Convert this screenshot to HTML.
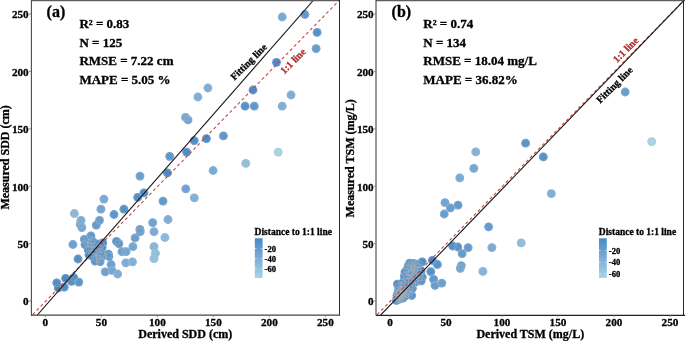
<!DOCTYPE html>
<html><head><meta charset="utf-8"><style>
html,body{margin:0;padding:0;background:#fff;}
svg{display:block;filter:blur(0.3px);}
text{font-family:"Liberation Serif",serif;font-weight:bold;fill:#000;stroke:#000;stroke-width:0.3px;}
</style></head><body>
<svg width="685" height="341" viewBox="0 0 685 341">
<defs><linearGradient id="grad" x1="0" y1="0" x2="0" y2="1"><stop offset="0.0" stop-color="#4689c7"/><stop offset="0.1" stop-color="#5290ca"/><stop offset="0.2" stop-color="#5d97ce"/><stop offset="0.3" stop-color="#689fd1"/><stop offset="0.4" stop-color="#71a6d4"/><stop offset="0.5" stop-color="#7baed8"/><stop offset="0.6" stop-color="#84b5db"/><stop offset="0.7" stop-color="#8dbdde"/><stop offset="0.8" stop-color="#96c4e1"/><stop offset="0.9" stop-color="#9fcce5"/><stop offset="1.0" stop-color="#a8d4e8"/></linearGradient></defs>
<rect width="685" height="341" fill="#fff"/>
<clipPath id="ca"><rect x="31" y="0" width="308" height="315"/></clipPath>
<g clip-path="url(#ca)">
<g>
<circle cx="91.8" cy="250.4" r="4.4" fill="#4a8bc8"/>
<circle cx="96.8" cy="258.6" r="4.4" fill="#5491cb"/>
<circle cx="97.5" cy="252.3" r="4.4" fill="#4c8dc9"/>
<circle cx="84.4" cy="239.3" r="4.4" fill="#619acf"/>
<circle cx="93.7" cy="253.2" r="4.4" fill="#488ac8"/>
<circle cx="92.0" cy="240.5" r="4.4" fill="#5793cc"/>
<circle cx="102.7" cy="255.6" r="4.4" fill="#5794cc"/>
<circle cx="88.0" cy="238.8" r="4.4" fill="#5e98ce"/>
<circle cx="100.6" cy="244.8" r="4.4" fill="#4789c7"/>
<circle cx="94.8" cy="246.5" r="4.4" fill="#4b8cc8"/>
<circle cx="85.0" cy="244.6" r="4.4" fill="#5a96cd"/>
<circle cx="89.5" cy="246.7" r="4.4" fill="#5290ca"/>
<circle cx="95.2" cy="261.1" r="4.4" fill="#5592cb"/>
<circle cx="92.7" cy="256.4" r="4.4" fill="#4b8cc8"/>
<circle cx="89.0" cy="254.8" r="4.4" fill="#488ac8"/>
<circle cx="98.7" cy="248.2" r="4.4" fill="#498ac8"/>
<circle cx="99.9" cy="259.2" r="4.4" fill="#5894cc"/>
<circle cx="101.1" cy="252.7" r="4.4" fill="#5290ca"/>
<circle cx="88.2" cy="250.0" r="4.4" fill="#508fca"/>
<circle cx="91.1" cy="243.7" r="4.4" fill="#5491cb"/>
<circle cx="99.4" cy="255.6" r="4.4" fill="#5391cb"/>
<circle cx="90.9" cy="235.9" r="4.4" fill="#5e98ce"/>
<circle cx="102.1" cy="247.6" r="4.4" fill="#4c8dc9"/>
<circle cx="87.5" cy="242.6" r="4.4" fill="#5a95cd"/>
<circle cx="95.1" cy="249.8" r="4.4" fill="#4689c7"/>
<circle cx="96.9" cy="244.0" r="4.4" fill="#4c8cc9"/>
<circle cx="282.2" cy="17.0" r="4.4" fill="#77aad6"/>
<circle cx="304.9" cy="14.5" r="4.4" fill="#6099cf"/>
<circle cx="317.1" cy="32.4" r="4.4" fill="#5391cb"/>
<circle cx="316.1" cy="48.6" r="4.4" fill="#659dd0"/>
<circle cx="276.5" cy="62.3" r="4.4" fill="#498ac8"/>
<circle cx="207.9" cy="88.0" r="4.4" fill="#7dafd8"/>
<circle cx="197.9" cy="97.0" r="4.4" fill="#7eb0d9"/>
<circle cx="253.0" cy="90.0" r="4.4" fill="#498ac8"/>
<circle cx="291.0" cy="95.0" r="4.4" fill="#7caed8"/>
<circle cx="245.1" cy="106.2" r="4.4" fill="#5391cb"/>
<circle cx="254.3" cy="106.2" r="4.4" fill="#5f98ce"/>
<circle cx="282.2" cy="106.2" r="4.4" fill="#7eb0d9"/>
<circle cx="185.5" cy="117.4" r="4.4" fill="#76a9d6"/>
<circle cx="188.0" cy="119.9" r="4.4" fill="#70a5d4"/>
<circle cx="194.2" cy="140.6" r="4.4" fill="#518fca"/>
<circle cx="206.4" cy="138.6" r="4.4" fill="#4a8bc8"/>
<circle cx="223.4" cy="135.9" r="4.4" fill="#5c97cd"/>
<circle cx="186.6" cy="152.1" r="4.4" fill="#4c8cc9"/>
<circle cx="169.7" cy="156.3" r="4.4" fill="#5c97cd"/>
<circle cx="278.2" cy="152.1" r="4.4" fill="#a8d4e8"/>
<circle cx="245.8" cy="163.3" r="4.4" fill="#92c1e0"/>
<circle cx="213.1" cy="170.5" r="4.4" fill="#77abd6"/>
<circle cx="185.8" cy="188.8" r="4.4" fill="#6da3d3"/>
<circle cx="194.3" cy="197.9" r="4.4" fill="#80b1d9"/>
<circle cx="167.4" cy="172.9" r="4.4" fill="#4a8bc8"/>
<circle cx="140.0" cy="176.1" r="4.4" fill="#699fd1"/>
<circle cx="143.9" cy="192.9" r="4.4" fill="#508fca"/>
<circle cx="137.7" cy="197.4" r="4.4" fill="#5290ca"/>
<circle cx="163.0" cy="201.1" r="4.4" fill="#609acf"/>
<circle cx="103.9" cy="199.1" r="4.4" fill="#78abd6"/>
<circle cx="100.9" cy="209.2" r="4.4" fill="#70a5d4"/>
<circle cx="123.9" cy="209.2" r="4.4" fill="#5592cb"/>
<circle cx="114.0" cy="214.5" r="4.4" fill="#5b96cd"/>
<circle cx="74.4" cy="213.5" r="4.4" fill="#88b8dc"/>
<circle cx="152.7" cy="222.7" r="4.4" fill="#6da3d3"/>
<circle cx="168.0" cy="219.5" r="4.4" fill="#7aadd7"/>
<circle cx="81.0" cy="220.3" r="4.4" fill="#7aadd7"/>
<circle cx="80.2" cy="224.4" r="4.4" fill="#77aad6"/>
<circle cx="81.8" cy="227.6" r="4.4" fill="#72a6d4"/>
<circle cx="99.5" cy="220.3" r="4.4" fill="#669dd0"/>
<circle cx="96.3" cy="225.2" r="4.4" fill="#649cd0"/>
<circle cx="72.9" cy="244.5" r="4.4" fill="#69a0d1"/>
<circle cx="116.5" cy="241.3" r="4.4" fill="#5794cc"/>
<circle cx="118.9" cy="243.7" r="4.4" fill="#5d97ce"/>
<circle cx="102.7" cy="242.9" r="4.4" fill="#478ac7"/>
<circle cx="108.4" cy="254.2" r="4.4" fill="#5d97ce"/>
<circle cx="122.0" cy="251.7" r="4.4" fill="#6aa1d2"/>
<circle cx="126.0" cy="251.7" r="4.4" fill="#6fa4d3"/>
<circle cx="78.0" cy="259.0" r="4.4" fill="#5290ca"/>
<circle cx="139.9" cy="229.4" r="4.4" fill="#669dd0"/>
<circle cx="140.2" cy="231.7" r="4.4" fill="#689fd1"/>
<circle cx="154.0" cy="231.7" r="4.4" fill="#78abd7"/>
<circle cx="164.9" cy="237.5" r="4.4" fill="#89b9dd"/>
<circle cx="135.1" cy="237.9" r="4.4" fill="#6aa0d2"/>
<circle cx="132.9" cy="246.7" r="4.4" fill="#71a6d4"/>
<circle cx="154.0" cy="246.7" r="4.4" fill="#87b8dc"/>
<circle cx="155.4" cy="253.3" r="4.4" fill="#8fbedf"/>
<circle cx="154.0" cy="258.6" r="4.4" fill="#93c2e0"/>
<circle cx="125.8" cy="262.8" r="4.4" fill="#7aadd7"/>
<circle cx="132.5" cy="261.8" r="4.4" fill="#80b2d9"/>
<circle cx="100.1" cy="261.6" r="4.4" fill="#5c96cd"/>
<circle cx="108.9" cy="256.5" r="4.4" fill="#6099cf"/>
<circle cx="111.1" cy="264.5" r="4.4" fill="#6ca2d2"/>
<circle cx="105.2" cy="271.8" r="4.4" fill="#6da3d3"/>
<circle cx="111.8" cy="270.4" r="4.4" fill="#73a7d5"/>
<circle cx="117.7" cy="274.0" r="4.4" fill="#7dafd8"/>
<circle cx="56.8" cy="282.8" r="4.4" fill="#4f8ec9"/>
<circle cx="58.3" cy="288.0" r="4.4" fill="#4689c7"/>
<circle cx="65.6" cy="278.4" r="4.4" fill="#498bc8"/>
<circle cx="64.2" cy="287.2" r="4.4" fill="#4d8dc9"/>
<circle cx="71.5" cy="281.4" r="4.4" fill="#508fca"/>
<circle cx="73.7" cy="277.7" r="4.4" fill="#4e8ec9"/>
<circle cx="78.8" cy="282.1" r="4.4" fill="#5a95cd"/>
</g>
<g fill="none" stroke="#b8b8b8" stroke-width="0.5" stroke-opacity="0.75">
<circle cx="91.8" cy="250.4" r="3.85"/>
<circle cx="96.8" cy="258.6" r="3.85"/>
<circle cx="97.5" cy="252.3" r="3.85"/>
<circle cx="84.4" cy="239.3" r="3.85"/>
<circle cx="93.7" cy="253.2" r="3.85"/>
<circle cx="92.0" cy="240.5" r="3.85"/>
<circle cx="102.7" cy="255.6" r="3.85"/>
<circle cx="88.0" cy="238.8" r="3.85"/>
<circle cx="100.6" cy="244.8" r="3.85"/>
<circle cx="94.8" cy="246.5" r="3.85"/>
<circle cx="85.0" cy="244.6" r="3.85"/>
<circle cx="89.5" cy="246.7" r="3.85"/>
<circle cx="95.2" cy="261.1" r="3.85"/>
<circle cx="92.7" cy="256.4" r="3.85"/>
<circle cx="89.0" cy="254.8" r="3.85"/>
<circle cx="98.7" cy="248.2" r="3.85"/>
<circle cx="99.9" cy="259.2" r="3.85"/>
<circle cx="101.1" cy="252.7" r="3.85"/>
<circle cx="88.2" cy="250.0" r="3.85"/>
<circle cx="91.1" cy="243.7" r="3.85"/>
<circle cx="99.4" cy="255.6" r="3.85"/>
<circle cx="90.9" cy="235.9" r="3.85"/>
<circle cx="102.1" cy="247.6" r="3.85"/>
<circle cx="87.5" cy="242.6" r="3.85"/>
<circle cx="95.1" cy="249.8" r="3.85"/>
<circle cx="96.9" cy="244.0" r="3.85"/>
<circle cx="282.2" cy="17.0" r="3.85"/>
<circle cx="304.9" cy="14.5" r="3.85"/>
<circle cx="317.1" cy="32.4" r="3.85"/>
<circle cx="316.1" cy="48.6" r="3.85"/>
<circle cx="276.5" cy="62.3" r="3.85"/>
<circle cx="207.9" cy="88.0" r="3.85"/>
<circle cx="197.9" cy="97.0" r="3.85"/>
<circle cx="253.0" cy="90.0" r="3.85"/>
<circle cx="291.0" cy="95.0" r="3.85"/>
<circle cx="245.1" cy="106.2" r="3.85"/>
<circle cx="254.3" cy="106.2" r="3.85"/>
<circle cx="282.2" cy="106.2" r="3.85"/>
<circle cx="185.5" cy="117.4" r="3.85"/>
<circle cx="188.0" cy="119.9" r="3.85"/>
<circle cx="194.2" cy="140.6" r="3.85"/>
<circle cx="206.4" cy="138.6" r="3.85"/>
<circle cx="223.4" cy="135.9" r="3.85"/>
<circle cx="186.6" cy="152.1" r="3.85"/>
<circle cx="169.7" cy="156.3" r="3.85"/>
<circle cx="278.2" cy="152.1" r="3.85"/>
<circle cx="245.8" cy="163.3" r="3.85"/>
<circle cx="213.1" cy="170.5" r="3.85"/>
<circle cx="185.8" cy="188.8" r="3.85"/>
<circle cx="194.3" cy="197.9" r="3.85"/>
<circle cx="167.4" cy="172.9" r="3.85"/>
<circle cx="140.0" cy="176.1" r="3.85"/>
<circle cx="143.9" cy="192.9" r="3.85"/>
<circle cx="137.7" cy="197.4" r="3.85"/>
<circle cx="163.0" cy="201.1" r="3.85"/>
<circle cx="103.9" cy="199.1" r="3.85"/>
<circle cx="100.9" cy="209.2" r="3.85"/>
<circle cx="123.9" cy="209.2" r="3.85"/>
<circle cx="114.0" cy="214.5" r="3.85"/>
<circle cx="74.4" cy="213.5" r="3.85"/>
<circle cx="152.7" cy="222.7" r="3.85"/>
<circle cx="168.0" cy="219.5" r="3.85"/>
<circle cx="81.0" cy="220.3" r="3.85"/>
<circle cx="80.2" cy="224.4" r="3.85"/>
<circle cx="81.8" cy="227.6" r="3.85"/>
<circle cx="99.5" cy="220.3" r="3.85"/>
<circle cx="96.3" cy="225.2" r="3.85"/>
<circle cx="72.9" cy="244.5" r="3.85"/>
<circle cx="116.5" cy="241.3" r="3.85"/>
<circle cx="118.9" cy="243.7" r="3.85"/>
<circle cx="102.7" cy="242.9" r="3.85"/>
<circle cx="108.4" cy="254.2" r="3.85"/>
<circle cx="122.0" cy="251.7" r="3.85"/>
<circle cx="126.0" cy="251.7" r="3.85"/>
<circle cx="78.0" cy="259.0" r="3.85"/>
<circle cx="139.9" cy="229.4" r="3.85"/>
<circle cx="140.2" cy="231.7" r="3.85"/>
<circle cx="154.0" cy="231.7" r="3.85"/>
<circle cx="164.9" cy="237.5" r="3.85"/>
<circle cx="135.1" cy="237.9" r="3.85"/>
<circle cx="132.9" cy="246.7" r="3.85"/>
<circle cx="154.0" cy="246.7" r="3.85"/>
<circle cx="155.4" cy="253.3" r="3.85"/>
<circle cx="154.0" cy="258.6" r="3.85"/>
<circle cx="125.8" cy="262.8" r="3.85"/>
<circle cx="132.5" cy="261.8" r="3.85"/>
<circle cx="100.1" cy="261.6" r="3.85"/>
<circle cx="108.9" cy="256.5" r="3.85"/>
<circle cx="111.1" cy="264.5" r="3.85"/>
<circle cx="105.2" cy="271.8" r="3.85"/>
<circle cx="111.8" cy="270.4" r="3.85"/>
<circle cx="117.7" cy="274.0" r="3.85"/>
<circle cx="56.8" cy="282.8" r="3.85"/>
<circle cx="58.3" cy="288.0" r="3.85"/>
<circle cx="65.6" cy="278.4" r="3.85"/>
<circle cx="64.2" cy="287.2" r="3.85"/>
<circle cx="71.5" cy="281.4" r="3.85"/>
<circle cx="73.7" cy="277.7" r="3.85"/>
<circle cx="78.8" cy="282.1" r="3.85"/>
</g>
<line x1="31.90" y1="315.35" x2="339.90" y2="-0.35" stroke="#c84646" stroke-width="1.1" stroke-dasharray="3.1,2.66" stroke-dashoffset="-1.02"/>
<line x1="37.30" y1="315.00" x2="313.70" y2="0.00" stroke="#1a1a1a" stroke-width="1.1"/>
</g>
<line x1="31" y1="0.6" x2="340" y2="0.6" stroke="#5e5e5e" stroke-width="1.3"/>
<line x1="31.4" y1="0" x2="31.4" y2="315.5" stroke="#4a4a4a" stroke-width="1.1"/>
<line x1="339.5" y1="0" x2="339.5" y2="315.5" stroke="#2a2a2a" stroke-width="1.0"/>
<line x1="31" y1="315.2" x2="340" y2="315.2" stroke="#444" stroke-width="1.3"/>
<line x1="29" y1="301.0" x2="31" y2="301.0" stroke="#777" stroke-width="0.8"/>
<text x="28.7" y="305.4" font-size="11.2" text-anchor="end">0</text>
<line x1="45.4" y1="315" x2="45.4" y2="317" stroke="#777" stroke-width="0.8"/>
<text x="45.4" y="326.2" font-size="11.2" text-anchor="middle">0</text>
<line x1="29" y1="243.6" x2="31" y2="243.6" stroke="#777" stroke-width="0.8"/>
<text x="28.7" y="248.0" font-size="11.2" text-anchor="end">50</text>
<line x1="101.4" y1="315" x2="101.4" y2="317" stroke="#777" stroke-width="0.8"/>
<text x="101.4" y="326.2" font-size="11.2" text-anchor="middle">50</text>
<line x1="29" y1="186.2" x2="31" y2="186.2" stroke="#777" stroke-width="0.8"/>
<text x="28.7" y="190.6" font-size="11.2" text-anchor="end">100</text>
<line x1="157.4" y1="315" x2="157.4" y2="317" stroke="#777" stroke-width="0.8"/>
<text x="157.4" y="326.2" font-size="11.2" text-anchor="middle">100</text>
<line x1="29" y1="128.8" x2="31" y2="128.8" stroke="#777" stroke-width="0.8"/>
<text x="28.7" y="133.2" font-size="11.2" text-anchor="end">150</text>
<line x1="213.4" y1="315" x2="213.4" y2="317" stroke="#777" stroke-width="0.8"/>
<text x="213.4" y="326.2" font-size="11.2" text-anchor="middle">150</text>
<line x1="29" y1="71.4" x2="31" y2="71.4" stroke="#777" stroke-width="0.8"/>
<text x="28.7" y="75.8" font-size="11.2" text-anchor="end">200</text>
<line x1="269.4" y1="315" x2="269.4" y2="317" stroke="#777" stroke-width="0.8"/>
<text x="269.4" y="326.2" font-size="11.2" text-anchor="middle">200</text>
<line x1="29" y1="14.0" x2="31" y2="14.0" stroke="#777" stroke-width="0.8"/>
<text x="28.7" y="18.4" font-size="11.2" text-anchor="end">250</text>
<line x1="325.4" y1="315" x2="325.4" y2="317" stroke="#777" stroke-width="0.8"/>
<text x="325.4" y="326.2" font-size="11.2" text-anchor="middle">250</text>
<text x="185.3" y="337.5" font-size="12" text-anchor="middle">Derived SDD (cm)</text>
<text transform="translate(8.9,157.4) rotate(-90)" font-size="12" text-anchor="middle">Measured SDD (cm)</text>
<text x="46.6" y="16.9" font-size="16">(a)</text>
<text x="79.4" y="28.0" font-size="13">R² = 0.83</text>
<text x="79.4" y="46.6" font-size="13">N = 125</text>
<text x="79.4" y="65.2" font-size="13">RMSE = 7.22 cm</text>
<text x="79.4" y="83.8" font-size="13">MAPE = 5.05 %</text>
<text transform="translate(248.6,61.8) rotate(-45)" font-size="10" text-anchor="middle" dominant-baseline="central">Fitting line</text>
<text transform="translate(292.8,61) rotate(-45)" font-size="10" text-anchor="middle" dominant-baseline="central" style="fill:#b42c2c;stroke:#b42c2c">1:1 line</text>
<text x="254.60000000000002" y="234.7" font-size="9.5">Distance to 1:1 line</text>
<rect x="254.8" y="238.3" width="7.8" height="39.7" fill="url(#grad)"/>
<line x1="254.8" y1="248.6" x2="256.40000000000003" y2="248.6" stroke="#fff" stroke-width="0.6"/>
<line x1="261.0" y1="248.6" x2="262.6" y2="248.6" stroke="#fff" stroke-width="0.6"/>
<text x="264.6" y="251.7" font-size="8.6">-20</text>
<line x1="254.8" y1="258.7" x2="256.40000000000003" y2="258.7" stroke="#fff" stroke-width="0.6"/>
<line x1="261.0" y1="258.7" x2="262.6" y2="258.7" stroke="#fff" stroke-width="0.6"/>
<text x="264.6" y="261.8" font-size="8.6">-40</text>
<line x1="254.8" y1="268.8" x2="256.40000000000003" y2="268.8" stroke="#fff" stroke-width="0.6"/>
<line x1="261.0" y1="268.8" x2="262.6" y2="268.8" stroke="#fff" stroke-width="0.6"/>
<text x="264.6" y="271.90000000000003" font-size="8.6">-60</text>
<clipPath id="cb"><rect x="376" y="0" width="308" height="315"/></clipPath>
<g clip-path="url(#cb)">
<g>
<circle cx="401.5" cy="295.1" r="4.4" fill="#4d8dc9"/>
<circle cx="398.8" cy="296.4" r="4.4" fill="#4b8cc8"/>
<circle cx="397.1" cy="295.2" r="4.4" fill="#488ac7"/>
<circle cx="398.1" cy="293.2" r="4.4" fill="#4789c7"/>
<circle cx="400.3" cy="297.6" r="4.4" fill="#4e8ec9"/>
<circle cx="397.2" cy="297.2" r="4.4" fill="#4a8bc8"/>
<circle cx="400.0" cy="291.7" r="4.4" fill="#478ac7"/>
<circle cx="397.7" cy="299.1" r="4.4" fill="#4d8dc9"/>
<circle cx="399.8" cy="293.6" r="4.4" fill="#498bc8"/>
<circle cx="399.4" cy="299.2" r="4.4" fill="#4f8ec9"/>
<circle cx="409.3" cy="288.1" r="4.4" fill="#4e8ec9"/>
<circle cx="416.1" cy="264.2" r="4.4" fill="#5190ca"/>
<circle cx="402.2" cy="295.2" r="4.4" fill="#4e8dc9"/>
<circle cx="412.3" cy="288.3" r="4.4" fill="#5190ca"/>
<circle cx="404.4" cy="276.4" r="4.4" fill="#518fca"/>
<circle cx="398.5" cy="295.4" r="4.4" fill="#4a8bc8"/>
<circle cx="413.6" cy="279.7" r="4.4" fill="#498bc8"/>
<circle cx="405.3" cy="281.3" r="4.4" fill="#4b8cc8"/>
<circle cx="421.2" cy="280.8" r="4.4" fill="#5391cb"/>
<circle cx="407.7" cy="281.7" r="4.4" fill="#478ac7"/>
<circle cx="406.2" cy="293.4" r="4.4" fill="#508fca"/>
<circle cx="398.7" cy="289.9" r="4.4" fill="#488ac8"/>
<circle cx="404.7" cy="287.2" r="4.4" fill="#478ac7"/>
<circle cx="419.8" cy="273.5" r="4.4" fill="#4a8bc8"/>
<circle cx="402.8" cy="298.1" r="4.4" fill="#5190ca"/>
<circle cx="417.5" cy="267.5" r="4.4" fill="#4c8cc9"/>
<circle cx="407.4" cy="268.8" r="4.4" fill="#5692cb"/>
<circle cx="419.5" cy="277.0" r="4.4" fill="#4d8dc9"/>
<circle cx="405.0" cy="272.1" r="4.4" fill="#5592cb"/>
<circle cx="403.5" cy="289.9" r="4.4" fill="#498bc8"/>
<circle cx="408.2" cy="265.9" r="4.4" fill="#5894cc"/>
<circle cx="416.2" cy="273.4" r="4.4" fill="#4789c7"/>
<circle cx="410.2" cy="274.3" r="4.4" fill="#4d8dc9"/>
<circle cx="421.0" cy="270.9" r="4.4" fill="#488ac8"/>
<circle cx="414.4" cy="269.8" r="4.4" fill="#4d8dc9"/>
<circle cx="406.9" cy="275.2" r="4.4" fill="#508fca"/>
<circle cx="399.9" cy="298.4" r="4.4" fill="#4f8ec9"/>
<circle cx="411.5" cy="278.4" r="4.4" fill="#4789c7"/>
<circle cx="415.0" cy="275.6" r="4.4" fill="#4689c7"/>
<circle cx="417.9" cy="270.5" r="4.4" fill="#488ac8"/>
<circle cx="411.7" cy="272.3" r="4.4" fill="#4d8dc9"/>
<circle cx="409.6" cy="291.5" r="4.4" fill="#5290ca"/>
<circle cx="414.6" cy="282.5" r="4.4" fill="#4e8dc9"/>
<circle cx="411.9" cy="285.2" r="4.4" fill="#4e8dc9"/>
<circle cx="418.3" cy="280.9" r="4.4" fill="#508fca"/>
<circle cx="422.2" cy="277.1" r="4.4" fill="#508fca"/>
<circle cx="414.4" cy="266.2" r="4.4" fill="#518fca"/>
<circle cx="412.0" cy="282.8" r="4.4" fill="#4b8cc8"/>
<circle cx="416.4" cy="279.3" r="4.4" fill="#4c8dc9"/>
<circle cx="398.7" cy="286.6" r="4.4" fill="#4c8dc9"/>
<circle cx="411.7" cy="265.3" r="4.4" fill="#5592cb"/>
<circle cx="403.9" cy="284.8" r="4.4" fill="#488ac8"/>
<circle cx="402.2" cy="283.1" r="4.4" fill="#4c8dc9"/>
<circle cx="418.5" cy="264.1" r="4.4" fill="#4f8ec9"/>
<circle cx="407.0" cy="277.9" r="4.4" fill="#4c8dc9"/>
<circle cx="408.3" cy="294.6" r="4.4" fill="#5491cb"/>
<circle cx="409.6" cy="263.1" r="4.4" fill="#5995cc"/>
<circle cx="413.2" cy="263.3" r="4.4" fill="#5592cb"/>
<circle cx="408.8" cy="271.9" r="4.4" fill="#518fca"/>
<circle cx="411.1" cy="268.0" r="4.4" fill="#5390ca"/>
<circle cx="407.1" cy="290.7" r="4.4" fill="#4e8ec9"/>
<circle cx="405.2" cy="296.1" r="4.4" fill="#5290ca"/>
<circle cx="401.5" cy="291.7" r="4.4" fill="#498bc8"/>
<circle cx="403.9" cy="292.5" r="4.4" fill="#4d8dc9"/>
<circle cx="401.8" cy="286.0" r="4.4" fill="#498bc8"/>
<circle cx="625.2" cy="92.0" r="4.4" fill="#679ed1"/>
<circle cx="525.6" cy="143.2" r="4.4" fill="#5a95cd"/>
<circle cx="543.3" cy="156.9" r="4.4" fill="#5492cb"/>
<circle cx="651.7" cy="141.6" r="4.4" fill="#a8d4e8"/>
<circle cx="475.8" cy="151.9" r="4.4" fill="#81b2da"/>
<circle cx="473.8" cy="168.3" r="4.4" fill="#74a8d5"/>
<circle cx="459.8" cy="177.9" r="4.4" fill="#78acd7"/>
<circle cx="551.3" cy="193.7" r="4.4" fill="#7eb0d9"/>
<circle cx="445.0" cy="202.7" r="4.4" fill="#70a5d4"/>
<circle cx="450.4" cy="207.9" r="4.4" fill="#669ed1"/>
<circle cx="458.0" cy="205.2" r="4.4" fill="#619acf"/>
<circle cx="444.2" cy="214.0" r="4.4" fill="#669ed1"/>
<circle cx="488.6" cy="226.8" r="4.4" fill="#629bcf"/>
<circle cx="491.9" cy="247.6" r="4.4" fill="#78abd7"/>
<circle cx="521.2" cy="242.9" r="4.4" fill="#8ebdde"/>
<circle cx="452.7" cy="246.0" r="4.4" fill="#508fca"/>
<circle cx="457.8" cy="247.0" r="4.4" fill="#5793cc"/>
<circle cx="468.1" cy="247.7" r="4.4" fill="#629bcf"/>
<circle cx="462.1" cy="253.6" r="4.4" fill="#629bcf"/>
<circle cx="461.3" cy="265.6" r="4.4" fill="#6ca2d3"/>
<circle cx="460.3" cy="268.3" r="4.4" fill="#6ea3d3"/>
<circle cx="482.9" cy="271.4" r="4.4" fill="#85b5db"/>
<circle cx="422.2" cy="261.8" r="4.4" fill="#4d8dc9"/>
<circle cx="432.3" cy="260.3" r="4.4" fill="#498bc8"/>
<circle cx="437.4" cy="264.5" r="4.4" fill="#5391cb"/>
<circle cx="430.8" cy="271.7" r="4.4" fill="#5491cb"/>
<circle cx="433.6" cy="279.3" r="4.4" fill="#5e98ce"/>
<circle cx="435.0" cy="285.4" r="4.4" fill="#669dd0"/>
<circle cx="441.8" cy="283.1" r="4.4" fill="#6aa0d2"/>
<circle cx="411.7" cy="295.5" r="4.4" fill="#5894cc"/>
<circle cx="397.4" cy="284.1" r="4.4" fill="#508fca"/>
<circle cx="396.4" cy="300.3" r="4.4" fill="#4d8dc9"/>
</g>
<g fill="none" stroke="#b8b8b8" stroke-width="0.5" stroke-opacity="0.75">
<circle cx="401.5" cy="295.1" r="3.85"/>
<circle cx="398.8" cy="296.4" r="3.85"/>
<circle cx="397.1" cy="295.2" r="3.85"/>
<circle cx="398.1" cy="293.2" r="3.85"/>
<circle cx="400.3" cy="297.6" r="3.85"/>
<circle cx="397.2" cy="297.2" r="3.85"/>
<circle cx="400.0" cy="291.7" r="3.85"/>
<circle cx="397.7" cy="299.1" r="3.85"/>
<circle cx="399.8" cy="293.6" r="3.85"/>
<circle cx="399.4" cy="299.2" r="3.85"/>
<circle cx="409.3" cy="288.1" r="3.85"/>
<circle cx="416.1" cy="264.2" r="3.85"/>
<circle cx="402.2" cy="295.2" r="3.85"/>
<circle cx="412.3" cy="288.3" r="3.85"/>
<circle cx="404.4" cy="276.4" r="3.85"/>
<circle cx="398.5" cy="295.4" r="3.85"/>
<circle cx="413.6" cy="279.7" r="3.85"/>
<circle cx="405.3" cy="281.3" r="3.85"/>
<circle cx="421.2" cy="280.8" r="3.85"/>
<circle cx="407.7" cy="281.7" r="3.85"/>
<circle cx="406.2" cy="293.4" r="3.85"/>
<circle cx="398.7" cy="289.9" r="3.85"/>
<circle cx="404.7" cy="287.2" r="3.85"/>
<circle cx="419.8" cy="273.5" r="3.85"/>
<circle cx="402.8" cy="298.1" r="3.85"/>
<circle cx="417.5" cy="267.5" r="3.85"/>
<circle cx="407.4" cy="268.8" r="3.85"/>
<circle cx="419.5" cy="277.0" r="3.85"/>
<circle cx="405.0" cy="272.1" r="3.85"/>
<circle cx="403.5" cy="289.9" r="3.85"/>
<circle cx="408.2" cy="265.9" r="3.85"/>
<circle cx="416.2" cy="273.4" r="3.85"/>
<circle cx="410.2" cy="274.3" r="3.85"/>
<circle cx="421.0" cy="270.9" r="3.85"/>
<circle cx="414.4" cy="269.8" r="3.85"/>
<circle cx="406.9" cy="275.2" r="3.85"/>
<circle cx="399.9" cy="298.4" r="3.85"/>
<circle cx="411.5" cy="278.4" r="3.85"/>
<circle cx="415.0" cy="275.6" r="3.85"/>
<circle cx="417.9" cy="270.5" r="3.85"/>
<circle cx="411.7" cy="272.3" r="3.85"/>
<circle cx="409.6" cy="291.5" r="3.85"/>
<circle cx="414.6" cy="282.5" r="3.85"/>
<circle cx="411.9" cy="285.2" r="3.85"/>
<circle cx="418.3" cy="280.9" r="3.85"/>
<circle cx="422.2" cy="277.1" r="3.85"/>
<circle cx="414.4" cy="266.2" r="3.85"/>
<circle cx="412.0" cy="282.8" r="3.85"/>
<circle cx="416.4" cy="279.3" r="3.85"/>
<circle cx="398.7" cy="286.6" r="3.85"/>
<circle cx="411.7" cy="265.3" r="3.85"/>
<circle cx="403.9" cy="284.8" r="3.85"/>
<circle cx="402.2" cy="283.1" r="3.85"/>
<circle cx="418.5" cy="264.1" r="3.85"/>
<circle cx="407.0" cy="277.9" r="3.85"/>
<circle cx="408.3" cy="294.6" r="3.85"/>
<circle cx="409.6" cy="263.1" r="3.85"/>
<circle cx="413.2" cy="263.3" r="3.85"/>
<circle cx="408.8" cy="271.9" r="3.85"/>
<circle cx="411.1" cy="268.0" r="3.85"/>
<circle cx="407.1" cy="290.7" r="3.85"/>
<circle cx="405.2" cy="296.1" r="3.85"/>
<circle cx="401.5" cy="291.7" r="3.85"/>
<circle cx="403.9" cy="292.5" r="3.85"/>
<circle cx="401.8" cy="286.0" r="3.85"/>
<circle cx="625.2" cy="92.0" r="3.85"/>
<circle cx="525.6" cy="143.2" r="3.85"/>
<circle cx="543.3" cy="156.9" r="3.85"/>
<circle cx="651.7" cy="141.6" r="3.85"/>
<circle cx="475.8" cy="151.9" r="3.85"/>
<circle cx="473.8" cy="168.3" r="3.85"/>
<circle cx="459.8" cy="177.9" r="3.85"/>
<circle cx="551.3" cy="193.7" r="3.85"/>
<circle cx="445.0" cy="202.7" r="3.85"/>
<circle cx="450.4" cy="207.9" r="3.85"/>
<circle cx="458.0" cy="205.2" r="3.85"/>
<circle cx="444.2" cy="214.0" r="3.85"/>
<circle cx="488.6" cy="226.8" r="3.85"/>
<circle cx="491.9" cy="247.6" r="3.85"/>
<circle cx="521.2" cy="242.9" r="3.85"/>
<circle cx="452.7" cy="246.0" r="3.85"/>
<circle cx="457.8" cy="247.0" r="3.85"/>
<circle cx="468.1" cy="247.7" r="3.85"/>
<circle cx="462.1" cy="253.6" r="3.85"/>
<circle cx="461.3" cy="265.6" r="3.85"/>
<circle cx="460.3" cy="268.3" r="3.85"/>
<circle cx="482.9" cy="271.4" r="3.85"/>
<circle cx="422.2" cy="261.8" r="3.85"/>
<circle cx="432.3" cy="260.3" r="3.85"/>
<circle cx="437.4" cy="264.5" r="3.85"/>
<circle cx="430.8" cy="271.7" r="3.85"/>
<circle cx="433.6" cy="279.3" r="3.85"/>
<circle cx="435.0" cy="285.4" r="3.85"/>
<circle cx="441.8" cy="283.1" r="3.85"/>
<circle cx="411.7" cy="295.5" r="3.85"/>
<circle cx="397.4" cy="284.1" r="3.85"/>
<circle cx="396.4" cy="300.3" r="3.85"/>
</g>
<line x1="376.50" y1="315.35" x2="684.50" y2="-0.35" stroke="#c84646" stroke-width="1.1" stroke-dasharray="3.1,2.66" stroke-dashoffset="-1.02"/>
<line x1="380.70" y1="315.00" x2="684.00" y2="0.50" stroke="#1a1a1a" stroke-width="1.1"/>
</g>
<line x1="376" y1="0.6" x2="685" y2="0.6" stroke="#5e5e5e" stroke-width="1.3"/>
<line x1="376" y1="0" x2="376" y2="315.5" stroke="#333" stroke-width="1.0"/>
<line x1="683.5" y1="0" x2="683.5" y2="315.5" stroke="#2a2a2a" stroke-width="1.0"/>
<line x1="376" y1="315.4" x2="685" y2="315.4" stroke="#222" stroke-width="1.1"/>
<line x1="374" y1="301.0" x2="376" y2="301.0" stroke="#777" stroke-width="0.8"/>
<text x="373.7" y="305.4" font-size="11.2" text-anchor="end">0</text>
<line x1="390.0" y1="315" x2="390.0" y2="317" stroke="#777" stroke-width="0.8"/>
<text x="390.0" y="326.2" font-size="11.2" text-anchor="middle">0</text>
<line x1="374" y1="243.6" x2="376" y2="243.6" stroke="#777" stroke-width="0.8"/>
<text x="373.7" y="248.0" font-size="11.2" text-anchor="end">50</text>
<line x1="446.0" y1="315" x2="446.0" y2="317" stroke="#777" stroke-width="0.8"/>
<text x="446.0" y="326.2" font-size="11.2" text-anchor="middle">50</text>
<line x1="374" y1="186.2" x2="376" y2="186.2" stroke="#777" stroke-width="0.8"/>
<text x="373.7" y="190.6" font-size="11.2" text-anchor="end">100</text>
<line x1="502.0" y1="315" x2="502.0" y2="317" stroke="#777" stroke-width="0.8"/>
<text x="502.0" y="326.2" font-size="11.2" text-anchor="middle">100</text>
<line x1="374" y1="128.8" x2="376" y2="128.8" stroke="#777" stroke-width="0.8"/>
<text x="373.7" y="133.2" font-size="11.2" text-anchor="end">150</text>
<line x1="558.0" y1="315" x2="558.0" y2="317" stroke="#777" stroke-width="0.8"/>
<text x="558.0" y="326.2" font-size="11.2" text-anchor="middle">150</text>
<line x1="374" y1="71.4" x2="376" y2="71.4" stroke="#777" stroke-width="0.8"/>
<text x="373.7" y="75.8" font-size="11.2" text-anchor="end">200</text>
<line x1="614.0" y1="315" x2="614.0" y2="317" stroke="#777" stroke-width="0.8"/>
<text x="614.0" y="326.2" font-size="11.2" text-anchor="middle">200</text>
<line x1="374" y1="14.0" x2="376" y2="14.0" stroke="#777" stroke-width="0.8"/>
<text x="373.7" y="18.4" font-size="11.2" text-anchor="end">250</text>
<line x1="670.0" y1="315" x2="670.0" y2="317" stroke="#777" stroke-width="0.8"/>
<text x="670.0" y="326.2" font-size="11.2" text-anchor="middle">250</text>
<text x="530.3" y="337.5" font-size="12" text-anchor="middle">Derived TSM (mg/L)</text>
<text transform="translate(353.6,158.3) rotate(-90)" font-size="12" text-anchor="middle">Measured TSM (mg/L)</text>
<text x="391.6" y="16.9" font-size="16">(b)</text>
<text x="423.3" y="28.0" font-size="13">R² = 0.74</text>
<text x="423.3" y="46.6" font-size="13">N = 134</text>
<text x="423.3" y="65.2" font-size="13">RMSE = 18.04 mg/L</text>
<text x="423.3" y="83.8" font-size="13">MAPE = 36.82%</text>
<text transform="translate(614.3,84.8) rotate(-45)" font-size="10" text-anchor="middle" dominant-baseline="central">Fitting line</text>
<text transform="translate(625.5,49.7) rotate(-45)" font-size="10" text-anchor="middle" dominant-baseline="central" style="fill:#b42c2c;stroke:#b42c2c">1:1 line</text>
<text x="598.8" y="234.7" font-size="9.5">Distance to 1:1 line</text>
<rect x="599" y="238.3" width="7.8" height="39.7" fill="url(#grad)"/>
<line x1="599" y1="250.5" x2="600.6" y2="250.5" stroke="#fff" stroke-width="0.6"/>
<line x1="605.2" y1="250.5" x2="606.8" y2="250.5" stroke="#fff" stroke-width="0.6"/>
<text x="608.8" y="253.6" font-size="8.6">-20</text>
<line x1="599" y1="262.2" x2="600.6" y2="262.2" stroke="#fff" stroke-width="0.6"/>
<line x1="605.2" y1="262.2" x2="606.8" y2="262.2" stroke="#fff" stroke-width="0.6"/>
<text x="608.8" y="265.3" font-size="8.6">-40</text>
<line x1="599" y1="273.9" x2="600.6" y2="273.9" stroke="#fff" stroke-width="0.6"/>
<line x1="605.2" y1="273.9" x2="606.8" y2="273.9" stroke="#fff" stroke-width="0.6"/>
<text x="608.8" y="277.0" font-size="8.6">-60</text>
</svg></body></html>
